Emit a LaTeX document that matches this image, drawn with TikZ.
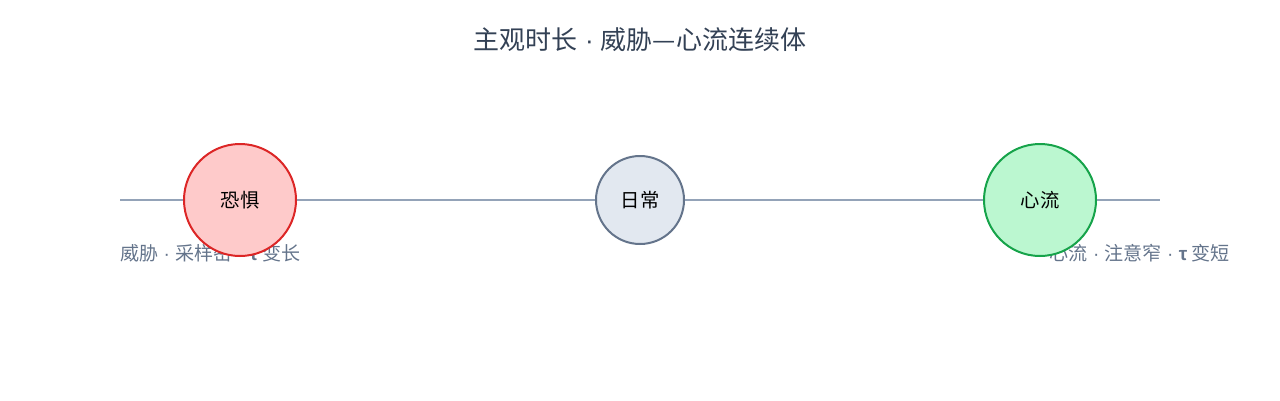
\documentclass[tikz,border=0pt]{standalone}
\usepackage{fontspec}
\setmainfont{Noto Sans CJK SC}
\newfontfamily\latinfont{Liberation Sans}
\newcommand\midsep{{\latinfont\ ·\ }}
\newcommand\tauletter{{\latinfont\bfseries τ}}
\definecolor{axisgray}{HTML}{94A3B8}
\definecolor{titleink}{HTML}{334155}
\definecolor{noteink}{HTML}{64748B}
\definecolor{fearfill}{HTML}{FECACA}
\definecolor{feardraw}{HTML}{DC2626}
\definecolor{dailyfill}{HTML}{E2E8F0}
\definecolor{dailydraw}{HTML}{64748B}
\definecolor{flowfill}{HTML}{BBF7D0}
\definecolor{flowdraw}{HTML}{16A34A}
\begin{document}
\begin{tikzpicture}
  [x=0.75pt,y=-0.75pt,
   title/.style={font=\fontsize{19.5}{23}\selectfont,text=titleink},
   note/.style={font=\fontsize{14.3}{17}\selectfont,text=noteink,inner sep=0pt},
   state/.style={draw,line width=1.5pt,circle,inner sep=0pt,text=black,font=\fontsize{14.5}{17}\selectfont},
   fear/.style={state,fill=fearfill,draw=feardraw,minimum size=84pt},
   daily/.style={state,fill=dailyfill,draw=dailydraw,minimum size=66pt},
   flow/.style={state,fill=flowfill,draw=flowdraw,minimum size=84pt},
   to/.style={-,line width=1.5pt,axisgray},]

  \useasboundingbox (0,0) rectangle (1280,400);

  \node[title] (title) at (640,40) {主观时长\midsep 威胁—心流连续体};

  \node[note,anchor=west] (fearnote) at (120,253) {威胁\midsep 采样密\midsep\tauletter\ 变长};
  \node[note,anchor=east] (flownote) at (1230,253) {心流\midsep 注意窄\midsep\tauletter\ 变短};

  \coordinate (lstart) at (120,200);
  \coordinate (lend) at (1160,200);
  \node[fear] (fear) at (240,200) {恐惧};
  \node[daily] (daily) at (640,200) {日常};
  \node[flow] (flow) at (1040,200) {心流};

  \draw[to] (lstart) -- (fear);
  \draw[to] (fear) -- (daily);
  \draw[to] (daily) -- (flow);
  \draw[to] (flow) -- (lend);

\end{tikzpicture}
\end{document}
